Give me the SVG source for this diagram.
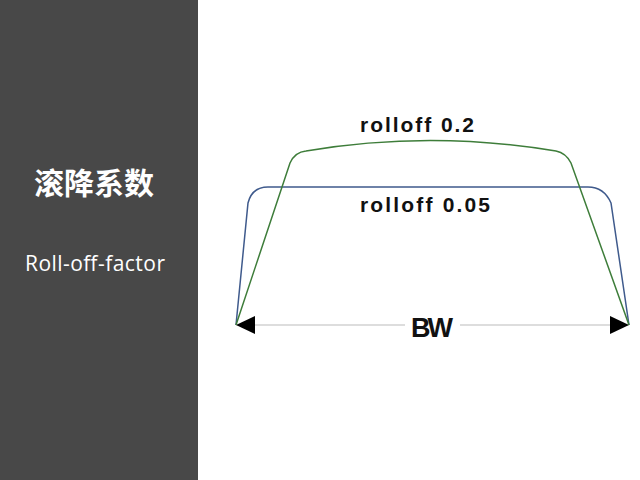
<svg xmlns="http://www.w3.org/2000/svg" width="640" height="480" viewBox="0 0 640 480">
<style>
.hand{font-family:"Liberation Sans",sans-serif;font-weight:bold;fill:#111}
.curve{fill:none;stroke-width:1.5}
</style>
<rect width="640" height="480" fill="#fff"/>
<g id="panel">
<rect width="198" height="480" fill="#484848"/>
<text x="94" y="194" text-anchor="middle" font-family="Noto Sans CJK SC,sans-serif" font-weight="bold" font-size="30" fill="#fff">滚降系数</text>
<text x="95" y="271" text-anchor="middle" font-family="Open Sans,sans-serif" font-size="21" fill="#fff" textLength="140">Roll-off-factor</text>
</g>
<g id="connectors">
<line x1="237" y1="325" x2="405" y2="325" stroke="#bbb" stroke-width="1"/>
<line x1="460" y1="325" x2="628" y2="325" stroke="#bbb" stroke-width="1"/>
<path d="M236,325 L255,316 L255,334 z" fill="#000"/>
<path d="M629,325 L610,316 L610,334 z" fill="#000"/>
</g>
<g id="rolloff005">
<path class="curve" stroke="#3f5a8c" d="M236,325 L248,203 Q252,187 268,187 L588,187 Q604,187 611,203 L629,325"/>
</g>
<g id="rolloff02">
<path class="curve" stroke="#3e7d3a" d="M236,325 L290,163 Q295,152 306,151 Q430,130 556,151 Q566,153 571,163 L629,325"/>
</g>
<g id="labels">
<text class="hand" x="360" y="132" font-size="21" textLength="114">rolloff  0.2</text>
<text class="hand" x="360" y="212" font-size="21" textLength="130">rolloff  0.05</text>
<text class="hand" x="411" y="337" font-size="27" textLength="42">BW</text>
</g>
</svg>
